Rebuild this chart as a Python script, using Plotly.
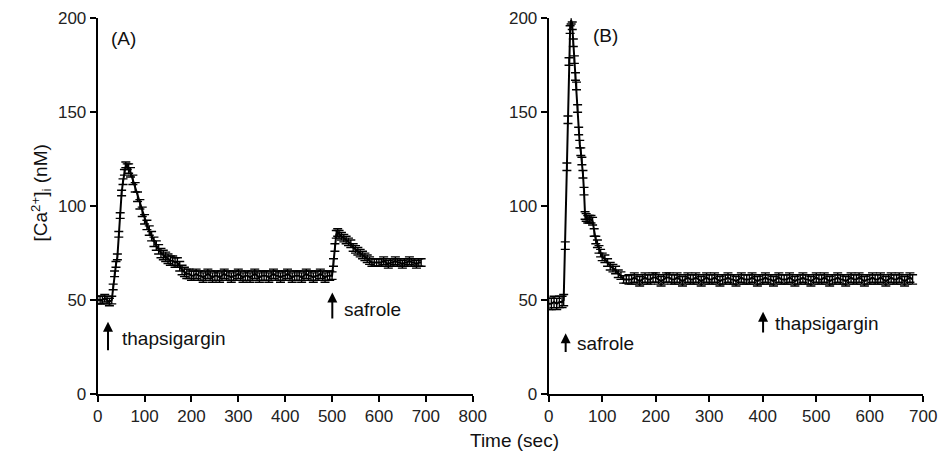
import plotly.graph_objects as go

# ---------------- Panel A: thapsigargin, then safrole ----------------
time_a_base = [0, 5, 10, 15, 20, 25, 30]
ca_a_base = [50, 50, 50, 51, 50, 49, 50]

time_a_rise = [33, 36, 39, 42, 45, 48, 51, 54, 57, 60, 63]
ca_a_rise = [57, 64, 69, 73, 85, 95, 107, 113, 118, 122, 121]

time_a_decay = [66, 70, 75, 80, 85, 90, 95, 100, 105, 110, 115, 120, 125, 130,
                135, 140, 145, 150, 155, 160, 165, 170, 175, 180, 185, 190, 195, 200]
ca_a_decay = [120, 118, 114, 110, 105, 101, 97, 93, 90, 87, 84, 81, 79, 77,
              75, 74, 73, 72, 71, 71, 70, 70, 68, 66, 65, 64, 64, 63]

time_a_plateau = list(range(205, 500, 5))
ca_a_plateau = [63, 64, 63, 63, 62, 63, 64, 63, 62, 63,
                63, 62, 63, 64, 63, 63, 62, 63, 63, 64,
                63, 62, 63, 63, 62, 63, 64, 63, 62, 63,
                63, 63, 62, 63, 64, 63, 63, 62, 63, 63,
                64, 63, 62, 63, 63, 63, 62, 63, 64, 63,
                63, 62, 63, 63, 64, 63, 62, 63, 63]

time_a_safrole = [500, 503, 506, 509, 512, 515, 520, 525, 530, 535, 540, 545,
                  550, 555, 560, 565, 570, 575, 580, 585, 590, 595]
ca_a_safrole = [63, 70, 78, 85, 86, 85, 84, 83, 82, 81, 80, 78,
                77, 76, 75, 74, 73, 72, 71, 70, 70, 70]

time_a_end = list(range(600, 695, 5))
ca_a_end = [70, 70, 71, 70, 69, 70, 70, 71, 70, 70, 69, 70, 70, 71, 70, 70, 69, 70, 70]

# ---------------- Panel B: safrole, then thapsigargin ----------------
time_b_base = [0, 5, 10, 15, 20, 25, 28]
ca_b_base = [48, 48, 49, 48, 49, 49, 50]

time_b_rise = [31, 34, 36, 38, 40, 42]
ca_b_rise = [79, 121, 146, 177, 194, 199]

time_b_decay = [44, 46, 48, 50, 52, 54, 56, 58, 60, 62, 64, 66, 68, 70, 73, 76,
                79, 82, 85, 88, 91, 94, 97, 100, 105, 110, 115, 120, 125, 130,
                135, 140, 145]
ca_b_decay = [196, 187, 178, 169, 164, 152, 140, 133, 129, 124, 117, 108, 95, 94,
              93, 93, 93, 92, 86, 82, 80, 77, 75, 73, 72, 70, 68, 67, 66, 64,
              63, 61, 61]

time_b_plateau = list(range(150, 685, 5))
ca_b_plateau = [61, 61, 62, 61, 60, 61, 62, 61, 61, 62,
                62, 61, 60, 61, 62, 62, 61, 61, 62, 61,
                60, 61, 62, 61, 61, 62, 61, 60, 61, 62,
                61, 61, 62, 61, 60, 61, 61, 62, 61, 61,
                60, 61, 62, 61, 61, 61, 62, 61, 60, 61,
                61, 62, 61, 61, 60, 61, 62, 61, 61, 61,
                62, 61, 60, 61, 61, 62, 61, 61, 60, 61,
                62, 61, 61, 62, 61, 60, 61, 61, 62, 61,
                61, 60, 61, 62, 61, 61, 62, 61, 60, 61,
                61, 62, 61, 61, 62, 61, 60, 61, 62, 61,
                61, 62, 61, 60, 61, 62, 61]

# Standard errors (nM) per segment
sem_a = ([2] * len(time_a_base) + [1.5] * len(time_a_rise) + [2.5] * len(time_a_decay)
         + [2.5] * len(time_a_plateau) + [2] * len(time_a_safrole) + [2] * len(time_a_end))
sem_b = ([3] * len(time_b_base) + [2] * len(time_b_rise) + [2] * len(time_b_decay)
         + [2.5] * len(time_b_plateau))

time_a = time_a_base + time_a_rise + time_a_decay + time_a_plateau + time_a_safrole + time_a_end
ca_a = ca_a_base + ca_a_rise + ca_a_decay + ca_a_plateau + ca_a_safrole + ca_a_end
time_b = time_b_base + time_b_rise + time_b_decay + time_b_plateau
ca_b = ca_b_base + ca_b_rise + ca_b_decay + ca_b_plateau

x_ticks_a = [0, 100, 200, 300, 400, 500, 600, 700, 800]
x_ticks_b = [0, 100, 200, 300, 400, 500, 600, 700]
y_ticks = [0, 50, 100, 150, 200]

FONT = "Liberation Sans, Arial, sans-serif"

fig = go.Figure()

err_style = dict(type="data", visible=True, color="black", thickness=1.4, width=4.5)

fig.add_trace(go.Scatter(
    x=time_a, y=ca_a, mode="lines", line=dict(color="black", width=2),
    error_y=dict(array=sem_a, **err_style), xaxis="x", yaxis="y", showlegend=False))
fig.add_trace(go.Scatter(
    x=time_b, y=ca_b, mode="lines", line=dict(color="black", width=2),
    error_y=dict(array=sem_b, **err_style), xaxis="x2", yaxis="y2", showlegend=False))

axis_common = dict(
    showline=True, linecolor="black", linewidth=2, showgrid=False, zeroline=False,
    ticks="outside", ticklen=6, tickwidth=2, tickcolor="black",
    tickfont=dict(family=FONT, size=17, color="#222"), automargin=False)

y_top = (465 - 18.3) / 465
y_bot = (465 - 394) / 465

fig.update_layout(
    width=942, height=465,
    margin=dict(l=0, r=0, t=0, b=0),
    paper_bgcolor="white", plot_bgcolor="white",
    xaxis=dict(domain=[97.7 / 942, 472.7 / 942], range=[0, 800], tickvals=x_ticks_a,
               anchor="y", **axis_common),
    yaxis=dict(domain=[y_bot, y_top], range=[0, 200], tickvals=y_ticks,
               anchor="x", **axis_common),
    xaxis2=dict(domain=[548.7 / 942, 923.3 / 942], range=[0, 700], tickvals=x_ticks_b,
                anchor="y2", **axis_common),
    yaxis2=dict(domain=[y_bot, y_top], range=[0, 200], tickvals=y_ticks,
                anchor="x2", **axis_common),
)

txt = dict(family=FONT, size=19, color="#111")
arrow = dict(showarrow=True, arrowhead=2, arrowsize=1, arrowwidth=2, arrowcolor="black",
             text="")

annotations = [
    # panel labels
    dict(x=56, y=189, xref="x", yref="y", text="(A)", showarrow=False, font=txt),
    dict(x=107, y=191, xref="x2", yref="y2", text="(B)", showarrow=False, font=txt),
    # additions in panel A
    dict(x=22, y=38.5, ax=22, ay=22.5, xref="x", yref="y", axref="x", ayref="y", **arrow),
    dict(x=47, y=29.8, xref="x", yref="y", text="thapsigargin", showarrow=False,
         xanchor="left", font=txt),
    dict(x=500.5, y=54, ax=500.5, ay=39.4, xref="x", yref="y", axref="x", ayref="y", **arrow),
    dict(x=522, y=45, xref="x", yref="y", text="safrole", showarrow=False,
         xanchor="left", font=txt),
    # additions in panel B
    dict(x=31.7, y=32.3, ax=31.7, ay=21.6, xref="x2", yref="y2", axref="x2", ayref="y2", **arrow),
    dict(x=50, y=27, xref="x2", yref="y2", text="safrole", showarrow=False,
         xanchor="left", font=txt),
    dict(x=400.6, y=43.8, ax=400.6, ay=32, xref="x2", yref="y2", axref="x2", ayref="y2", **arrow),
    dict(x=420, y=37.6, xref="x2", yref="y2", text="thapsigargin", showarrow=False,
         xanchor="left", font=txt),
    # axis titles
    dict(x=514 / 942, y=1 - 453 / 465, xref="paper", yref="paper", text="Time (sec)",
         showarrow=False, font=txt),
    dict(x=25 / 942, y=1 - 193 / 465, xref="paper", yref="paper",
         text="[Ca<sup>2+</sup>]<sub>i</sub> (nM)", textangle=-90,
         showarrow=False, font=txt),
]
fig.update_layout(annotations=annotations)

fig.write_html("out.html")
